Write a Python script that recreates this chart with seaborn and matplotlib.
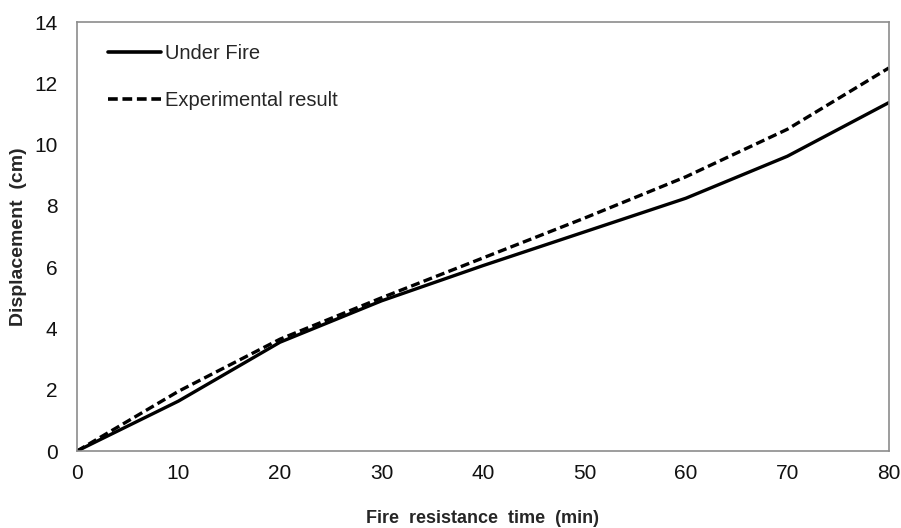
import pandas as pd
import seaborn as sns
import matplotlib.pyplot as plt

# Valores
tiempo_min = [0, 10, 20, 30, 40, 50, 60, 70, 80]
under_fire = [0.0, 1.63, 3.55, 4.9, 6.05, 7.15, 8.25, 9.62, 11.37]
experimental = [0.0, 1.95, 3.65, 5.0, 6.3, 7.6, 8.95, 10.5, 12.5]

series = ["Under Fire", "Experimental result"]

df = pd.DataFrame({
    "tiempo": tiempo_min * 2,
    "desplazamiento": under_fire + experimental,
    "serie": [series[0]] * len(tiempo_min) + [series[1]] * len(tiempo_min),
})

sns.set_theme(style="white")
plt.rcParams["font.family"] = ["Liberation Sans Narrow", "Liberation Sans", "DejaVu Sans"]

fig = plt.figure(figsize=(9.01, 5.28), dpi=100)
ax = fig.add_axes([0.0855, 0.1458, 0.901, 0.8125])

sns.lineplot(
    data=df, x="tiempo", y="desplazamiento", style="serie",
    style_order=series, dashes={series[0]: "", series[1]: (2.7, 1.3)},
    color="black", linewidth=2.4, ax=ax, legend=True,
)

ax.set_xlim(0, 80)
ax.set_ylim(0, 14)
ax.set_xticks(range(0, 81, 10))
ax.set_yticks(range(0, 15, 2))
ax.tick_params(axis="both", length=0, labelsize=15, colors="#111111")
ax.tick_params(axis="x", pad=9)
ax.tick_params(axis="y", pad=14)

for s in ax.spines.values():
    s.set_visible(True)
    s.set_color("#8c8c8c")
    s.set_linewidth(1.2)

ax.set_xlabel("Fire  resistance  time  (min)", labelpad=20,
              family=["Liberation Sans", "DejaVu Sans"], fontweight="bold", fontsize=13)
ax.set_ylabel("Displacement  (cm)", labelpad=5,
              family=["Liberation Sans", "DejaVu Sans"], fontweight="bold", fontsize=14)

leg = ax.legend(
    loc="upper left", frameon=False, fontsize=14.5, handlelength=2.6,
    handletextpad=0.2, labelspacing=1.35, bbox_to_anchor=(0.016, 0.99),
)
for line in leg.get_lines():
    line.set_linewidth(2.6)

fig.savefig("out.png", dpi=100)
